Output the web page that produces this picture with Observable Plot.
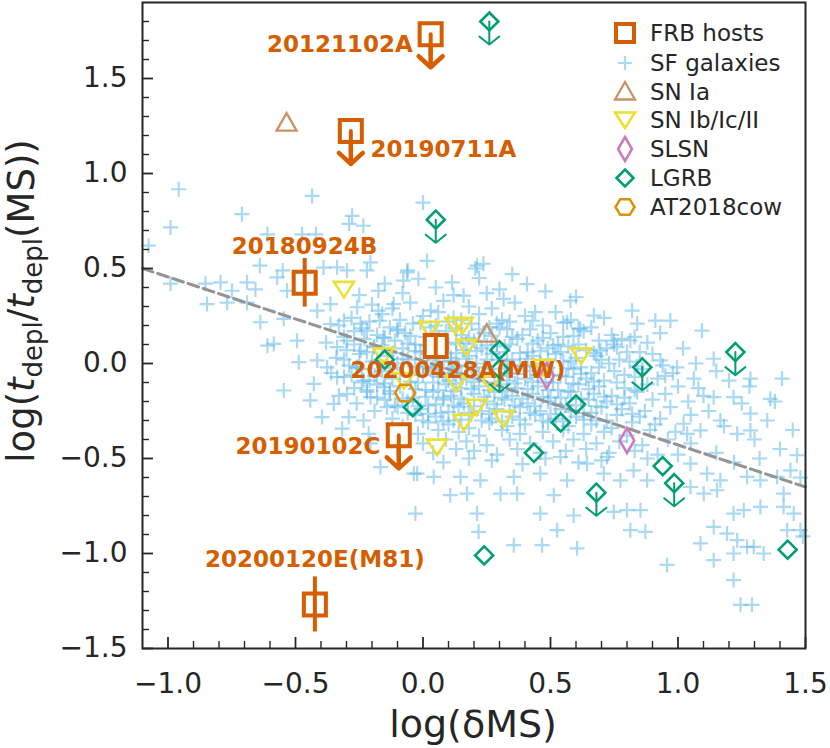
<!DOCTYPE html>
<html><head><meta charset="utf-8">
<script src="https://cdn.jsdelivr.net/npm/d3@7"></script>
<script src="https://cdn.jsdelivr.net/npm/@observablehq/plot@0.6"></script>
<style>body{margin:0;background:#fff} svg{font-family:"DejaVu Sans",sans-serif}</style>
</head><body><div id="chart"></div>
<script>
// ---------------- DATA ----------------
const majorX = [-1, -0.5, 0, 0.5, 1, 1.5];
const minorX = [-0.9,-0.8,-0.7,-0.6,-0.4,-0.3,-0.2,-0.1,0.1,0.2,0.3,0.4,0.6,0.7,0.8,0.9,1.1,1.2,1.3,1.4];
const majorY = [-1.5, -1, -0.5, 0, 0.5, 1, 1.5];
const minorY = [-1.4,-1.3,-1.2,-1.1,-0.9,-0.8,-0.7,-0.6,-0.4,-0.3,-0.2,-0.1,0.1,0.2,0.3,0.4,0.6,0.7,0.8,0.9,1.1,1.2,1.3,1.4,1.6,1.7,1.8];

const sfGalaxies = [
[-0.958,0.917],[-0.435,0.882],[-0.99,0.716],[-0.71,0.786],[-1.076,0.62],[0.0,0.847],[-0.278,0.777],[-0.234,0.725],[-0.29,0.735],[-0.61,0.68],[-0.474,0.68],[-0.42,0.68],[0.016,0.54],[0.205,0.50],[-0.64,0.515],[-0.55,0.49],[-0.337,0.506],[-0.22,0.49],[-0.39,0.505],[-0.298,0.49],[-0.206,0.532],[-0.06,0.49],[-0.018,0.446],[0.114,0.427],[-0.99,0.42],[-0.853,0.42],[-0.794,0.427],[-0.749,0.383],[-0.69,0.427],[-0.657,0.39],[-0.847,0.313],[-0.768,0.32],[-0.69,0.32],[-0.533,0.383],[-0.572,0.453],[-0.638,0.217],[-0.546,0.235],[-0.585,0.103],[-0.61,0.094],[-0.494,0.12],[-0.487,0.007],[-0.415,0.016],[-0.546,-0.142],[-0.396,-0.282],[-0.291,-0.282],[-0.317,-0.343],[-0.213,-0.37],[-0.167,-0.545],[-0.415,0.278],[-0.363,0.313],[-0.363,0.208],[-0.31,0.225],[-0.258,0.296],[-0.245,0.21],[-0.175,0.278],[-0.115,0.313],[-0.077,0.436],[-0.175,0.383],[-0.22,0.173],[-0.155,0.138],[-0.10,0.173],[-0.298,0.12],[-0.337,0.086],[-0.245,0.068],[-0.194,0.086],[-0.376,-0.02],[-0.337,-0.072],[-0.258,-0.02],[-0.233,-0.09],[-0.298,-0.16],[-0.206,-0.177],[-0.154,-0.124],[-0.141,-0.23],[-0.428,-0.107],[-0.442,-0.194],[-0.35,-0.212],[-0.233,-0.30],[-0.206,-0.42],[-0.023,-0.58],
[0.212,0.515],[0.237,0.525],[-0.062,0.48],[0.408,0.418],[0.159,0.357],[0.316,0.34],[0.578,0.331],[0.67,0.252],[0.82,0.278],[0.911,0.226],[0.97,0.226],[1.094,0.173],[0.565,0.217],[0.617,0.182],[0.748,0.121],[0.813,0.121],[0.761,0.086],[0.696,0.068],[1.14,0.025],[0.931,0.016],[0.996,-0.02],[1.062,-0.08],[1.284,-0.08],[1.408,-0.08],[1.218,-0.177],[1.362,-0.186],[1.14,-0.177],[1.284,-0.264],[1.166,-0.30],[1.284,-0.352],[1.232,-0.37],[1.088,-0.352],[1.036,-0.37],[1.022,-0.317],[1.467,-0.483],[1.441,-0.562],[1.389,-0.597],[1.323,-0.615],[1.271,-0.597],[1.166,-0.615],[1.114,-0.58],[1.049,-0.65],[1.101,-0.685],[1.153,-0.667],[1.218,-0.79],[1.258,-0.772],[1.323,-0.755],[1.414,-0.685],[1.414,-0.755],[1.454,-0.79],[1.48,-0.877],[1.428,-0.877],[1.49,-0.91],[1.088,-0.947],[1.14,-0.86],[1.192,-0.895],[1.232,-0.93],[1.271,-0.965],[1.297,-0.965],[1.336,-1.0],[1.218,-1.0],[1.14,-1.035],[1.218,-1.14],[1.245,-1.27],[1.29,-1.27],[0.957,-1.06],[0.813,-0.877],[0.872,-0.886],[0.80,-0.772],[0.748,-0.781],[0.853,-0.772],[0.591,-0.80],[0.526,-0.877],[0.46,-0.79],[0.604,-0.973],[0.467,-0.956],[0.356,-0.956],[0.218,-0.886],[0.212,-0.79],[-0.03,-0.79],[0.107,-0.693],[0.173,-0.685],[0.304,-0.685],[0.369,-0.685],[0.513,-0.693],[-0.036,-0.58],[0.042,-0.597],[0.147,-0.597],[0.225,-0.615],[0.356,-0.597],[0.46,-0.58],[0.565,-0.615],[0.709,-0.58],[0.774,-0.615],[0.826,-0.562],[0.879,-0.615],[1.049,-0.527],[0.722,-0.492],[0.643,-0.527],[0.539,-0.492],
[-0.20,0.31],[-0.12,0.29],[-0.05,0.32],[0.03,0.28],[0.08,0.33],[0.18,0.30],[0.27,0.29],[0.36,0.32],[0.44,0.27],
[-0.28,0.24],[-0.16,0.26],[-0.09,0.23],[0.00,0.25],[0.06,0.27],[0.12,0.24],[0.22,0.26],[0.31,0.23],[0.40,0.25],[0.52,0.27],[0.71,0.24],
[-0.33,0.20],[-0.21,0.22],[-0.13,0.19],[-0.04,0.21],[0.05,0.20],[0.10,0.22],[0.19,0.21],[0.26,0.19],[0.34,0.22],[0.47,0.20],[0.58,0.23],[0.66,0.19],[0.84,0.21],
[-0.27,0.17],[-0.18,0.15],[-0.07,0.16],[0.01,0.14],[0.09,0.17],[0.15,0.15],[0.24,0.16],[0.33,0.18],[0.39,0.15],[0.50,0.16],[0.55,0.14],[0.63,0.17],[0.74,0.15],[0.93,0.16],
[-0.38,0.11],[-0.23,0.13],[-0.11,0.12],[-0.03,0.10],[0.04,0.13],[0.13,0.11],[0.20,0.12],[0.29,0.10],[0.37,0.13],[0.45,0.12],[0.53,0.10],[0.69,0.12],[0.78,0.13],[0.88,0.11],
[-0.30,0.07],[-0.19,0.09],[-0.08,0.08],[-0.01,0.06],[0.07,0.09],[0.16,0.07],[0.23,0.08],[0.32,0.09],[0.41,0.06],[0.49,0.08],[0.57,0.09],[0.64,0.07],[0.72,0.08],[0.85,0.06],[1.02,0.08],
[-0.34,0.03],[-0.25,0.05],[-0.14,0.04],[-0.06,0.02],[0.02,0.05],[0.11,0.03],[0.18,0.04],[0.27,0.05],[0.35,0.02],[0.43,0.04],[0.52,0.05],[0.60,0.03],[0.68,0.04],[0.77,0.02],[0.90,0.05],
[-0.29,-0.01],[-0.20,0.01],[-0.10,0.00],[0.00,-0.02],[0.08,0.01],[0.14,-0.01],[0.21,0.00],[0.30,0.02],[0.38,-0.01],[0.46,0.00],[0.55,0.01],[0.62,-0.02],[0.73,0.00],[0.81,0.01],[0.94,-0.01],[1.07,0.00],
[-0.36,-0.05],[-0.24,-0.03],[-0.16,-0.04],[-0.05,-0.06],[0.03,-0.03],[0.12,-0.05],[0.19,-0.04],[0.26,-0.03],[0.34,-0.05],[0.42,-0.04],[0.51,-0.06],[0.59,-0.03],[0.66,-0.05],[0.75,-0.04],[0.86,-0.03],[0.98,-0.05],[1.15,-0.04],
[-0.31,-0.07],[-0.21,-0.09],[-0.12,-0.08],[-0.02,-0.10],[0.06,-0.07],[0.10,-0.09],[0.17,-0.08],[0.24,-0.07],[0.33,-0.09],[0.40,-0.08],[0.48,-0.10],[0.56,-0.07],[0.64,-0.08],[0.71,-0.09],[0.83,-0.07],[0.92,-0.08],[1.20,-0.09],
[-0.27,-0.13],[-0.18,-0.11],[-0.09,-0.12],[0.01,-0.14],[0.09,-0.11],[0.15,-0.13],[0.22,-0.12],[0.30,-0.11],[0.37,-0.13],[0.45,-0.12],[0.53,-0.14],[0.61,-0.11],[0.69,-0.12],[0.79,-0.13],[0.88,-0.11],[1.00,-0.12],
[-0.33,-0.17],[-0.22,-0.15],[-0.13,-0.16],[-0.04,-0.18],[0.04,-0.15],[0.11,-0.17],[0.20,-0.16],[0.28,-0.15],[0.35,-0.17],[0.43,-0.16],[0.50,-0.18],[0.58,-0.15],[0.67,-0.16],[0.74,-0.17],[0.84,-0.15],[0.95,-0.16],[1.10,-0.17],
[-0.26,-0.21],[-0.15,-0.19],[-0.06,-0.20],[0.02,-0.22],[0.08,-0.19],[0.16,-0.21],[0.25,-0.20],[0.32,-0.19],[0.41,-0.21],[0.49,-0.20],[0.56,-0.22],[0.65,-0.19],[0.72,-0.20],[0.81,-0.21],[0.90,-0.19],[1.04,-0.20],
[-0.19,-0.25],[-0.10,-0.23],[-0.01,-0.24],[0.07,-0.26],[0.14,-0.23],[0.23,-0.25],[0.29,-0.24],[0.38,-0.23],[0.46,-0.25],[0.54,-0.24],[0.63,-0.26],[0.70,-0.23],[0.78,-0.24],[0.87,-0.25],[0.97,-0.23],
[-0.12,-0.29],[-0.03,-0.27],[0.05,-0.28],[0.12,-0.30],[0.19,-0.27],[0.27,-0.29],[0.35,-0.28],[0.44,-0.27],[0.52,-0.29],[0.60,-0.28],[0.68,-0.30],[0.76,-0.27],[0.85,-0.28],[0.93,-0.29],[1.05,-0.27],
[-0.08,-0.33],[0.02,-0.31],[0.10,-0.32],[0.18,-0.34],[0.26,-0.31],[0.33,-0.33],[0.40,-0.32],[0.49,-0.31],[0.57,-0.33],[0.66,-0.32],[0.74,-0.34],[0.82,-0.31],[0.91,-0.32],
[-0.02,-0.37],[0.06,-0.35],[0.14,-0.36],[0.22,-0.38],[0.31,-0.35],[0.38,-0.37],[0.47,-0.36],[0.55,-0.35],[0.63,-0.37],[0.71,-0.36],[0.80,-0.38],[0.89,-0.35],[0.99,-0.36],
[0.00,-0.42],[0.09,-0.40],[0.17,-0.41],[0.25,-0.43],[0.34,-0.40],[0.42,-0.42],[0.51,-0.41],[0.59,-0.40],[0.68,-0.42],[0.77,-0.41],[0.86,-0.43],[0.96,-0.40],
[0.04,-0.47],[0.13,-0.45],[0.20,-0.46],[0.29,-0.48],[0.37,-0.45],[0.46,-0.47],[0.56,-0.46],[0.64,-0.45],[0.73,-0.47],[0.83,-0.46],[0.92,-0.48],
[0.08,-0.52],[0.18,-0.50],[0.27,-0.51],[0.39,-0.53],[0.48,-0.50],[0.61,-0.52],[0.70,-0.51],[0.88,-0.50],
[-0.15,0.42],[-0.08,0.37],[0.05,0.40],[0.12,0.36],[0.22,0.45],[0.30,0.39],[0.35,0.47],[0.48,0.38],[0.60,0.35],[0.25,0.37],[-0.25,0.36],
[1.12,-0.25],[1.18,-0.33],[1.25,-0.21],[1.30,-0.40],[1.35,-0.30],[1.40,-0.45],[1.45,-0.35],[1.05,-0.42],[1.15,-0.47],[1.22,-0.52],[1.32,-0.50],[1.48,-0.60],[1.00,-0.48],[1.08,-0.13],[1.28,-0.12],[1.38,-0.20],
[-0.17,0.225],[-0.01,0.215],[0.15,0.23],[0.29,0.21],[0.43,0.225],[0.55,0.215],
[-0.24,0.185],[-0.10,0.18],[0.03,0.19],[0.13,0.185],[0.22,0.18],[0.30,0.19],[0.42,0.18],[0.61,0.185],
[-0.31,0.14],[-0.15,0.135],[-0.05,0.145],[0.06,0.14],[0.18,0.135],[0.27,0.145],[0.35,0.14],[0.47,0.135],[0.59,0.145],[0.83,0.14],
[-0.27,0.10],[-0.16,0.095],[-0.06,0.105],[0.01,0.095],[0.10,0.10],[0.17,0.105],[0.25,0.095],[0.34,0.10],[0.43,0.105],[0.51,0.095],[0.61,0.10],[0.75,0.10],
[-0.22,0.06],[-0.12,0.055],[-0.03,0.065],[0.05,0.06],[0.13,0.055],[0.21,0.065],[0.29,0.06],[0.38,0.055],[0.46,0.065],[0.54,0.06],[0.67,0.055],[0.80,0.06],
[-0.31,0.02],[-0.18,0.015],[-0.08,0.025],[0.04,0.02],[0.11,0.015],[0.17,0.025],[0.25,0.02],[0.33,0.015],[0.41,0.025],[0.49,0.02],[0.58,0.015],[0.70,0.02],
[-0.26,-0.02],[-0.13,-0.025],[-0.03,-0.015],[0.05,-0.02],[0.10,-0.025],[0.17,-0.015],[0.24,-0.02],[0.32,-0.025],[0.40,-0.015],[0.49,-0.02],[0.57,-0.025],[0.69,-0.02],[0.84,-0.015],
[-0.28,-0.06],[-0.19,-0.065],[-0.09,-0.055],[0.00,-0.06],[0.08,-0.065],[0.15,-0.055],[0.22,-0.06],[0.30,-0.065],[0.37,-0.055],[0.45,-0.06],[0.54,-0.065],[0.62,-0.055],[0.79,-0.06],[0.95,-0.065],
[-0.24,-0.10],[-0.15,-0.105],[-0.05,-0.095],[0.04,-0.10],[0.13,-0.105],[0.20,-0.095],[0.28,-0.10],[0.36,-0.105],[0.43,-0.095],[0.51,-0.10],[0.59,-0.105],[0.67,-0.095],[0.76,-0.10],
[-0.22,-0.14],[-0.13,-0.145],[-0.03,-0.135],[0.06,-0.14],[0.12,-0.145],[0.19,-0.135],[0.26,-0.14],[0.33,-0.145],[0.41,-0.135],[0.49,-0.14],[0.57,-0.145],[0.65,-0.135],[0.83,-0.14],
[-0.18,-0.18],[-0.08,-0.185],[0.01,-0.175],[0.08,-0.18],[0.15,-0.185],[0.24,-0.175],[0.31,-0.18],[0.39,-0.185],[0.47,-0.175],[0.54,-0.18],[0.62,-0.185],[0.71,-0.175],[0.79,-0.18],
[-0.11,-0.22],[-0.02,-0.225],[0.05,-0.215],[0.12,-0.22],[0.20,-0.225],[0.28,-0.215],[0.36,-0.22],[0.44,-0.225],[0.52,-0.215],[0.60,-0.22],[0.68,-0.225],[0.76,-0.215],
[-0.06,-0.26],[0.02,-0.265],[0.10,-0.255],[0.18,-0.26],[0.26,-0.265],[0.34,-0.255],[0.42,-0.26],[0.50,-0.265],[0.58,-0.255],[0.66,-0.26],[0.82,-0.265],
[0.00,-0.30],[0.08,-0.305],[0.15,-0.295],[0.23,-0.30],[0.31,-0.305],[0.38,-0.295],[0.47,-0.30],[0.55,-0.305],[0.63,-0.295],[0.72,-0.30]
];

const snIa = [[-0.535,1.265],[0.25,0.155]];
const snCC = [[-0.31,0.39],[0.025,0.18],[0.127,0.20],[0.155,0.20],[0.17,0.085],[0.62,0.04],[0.47,-0.02],[0.13,-0.105],[0.265,-0.105],[0.21,-0.23],[0.16,-0.31],[0.315,-0.29],[0.055,-0.44],[-0.076,-0.09],[-0.155,0.04]];
const slsn = [[0.485,-0.065],[0.80,-0.405]];
const lgrb = [[-0.15,0.02],[-0.04,-0.23],[0.30,0.07],[0.60,-0.215],[0.54,-0.31],[0.435,-0.47],[0.94,-0.54],[0.24,-1.01],[1.43,-0.98]];
const lgrbUpper = [[0.26,1.80],[0.05,0.757],[0.30,-0.03],[0.86,-0.02],[1.225,0.06],[0.985,-0.63],[0.68,-0.68]];
const at2018cow = [[-0.07,-0.155]];

const fitX = [-1.1, 1.5];
const fitY = [0.50, -0.65];

const frbNames = ["20121102A","20190711A","20180924B","20200428A(MW)","20190102C","20200120E(M81)"];
const frbX = [0.03,-0.283,-0.464,0.05,-0.095,-0.424];
const frbY = [1.733,1.224,0.425,0.092,-0.378,-1.268];
const frbErr = [0,0,0.128,0.06,0,0.145];
const frbUpper = [true,true,false,false,true,false];
const frbLabelX = [-0.04,-0.206,-0.465,0.137,-0.167,-0.424];
const frbLabelY = [1.68,1.124,0.615,-0.037,-0.436,-1.03];
const frbLabelAnchor = ["end","start","middle","middle","end","middle"];

const legendLabels = ["FRB hosts","SF galaxies","SN Ia","SN Ib/Ic/II","SLSN","LGRB","AT2018cow"];

// ---------------- STYLE ----------------
const C = {frb:"#D55E00", sf:"#56B4E9", ia:"#CA9161", cc:"#ECE133", slsn:"#CC78BC", lgrb:"#029E73", cow:"#DE8F05", fit:"#949494", ink:"#262626"};
const W = 830, H = 748, mL = 142, mR = 25, mT = 2, mB = 100;
const pW = W - mL - mR, pH = H - mT - mB;

const rad = s => Math.sqrt(s / Math.PI);
const symSquare = {draw(c,s){const r=rad(s);c.moveTo(-r,-r);c.lineTo(r,-r);c.lineTo(r,r);c.lineTo(-r,r);c.closePath();}};
const symPlus = {draw(c,s){const r=rad(s);c.moveTo(-r,0);c.lineTo(r,0);c.moveTo(0,-r);c.lineTo(0,r);}};
const symTriUp = {draw(c,s){const r=rad(s);c.moveTo(0,-r);c.lineTo(r,0.75*r);c.lineTo(-r,0.75*r);c.closePath();}};
const symTriDown = {draw(c,s){const r=rad(s);c.moveTo(0,r*0.8);c.lineTo(r,-0.75*r);c.lineTo(-r,-0.75*r);c.closePath();}};
const symDiamond = {draw(c,s){const r=rad(s);c.moveTo(0,-r);c.lineTo(r,0);c.lineTo(0,r);c.lineTo(-r,0);c.closePath();}};
const symThinDiamond = {draw(c,s){const r=rad(s);c.moveTo(0,-r);c.lineTo(0.58*r,0);c.lineTo(0,r);c.lineTo(-0.58*r,0);c.closePath();}};
const symHex = {draw(c,s){const r=rad(s);for(let i=0;i<6;i++){const a=i*Math.PI/3;const px=r*Math.cos(a),py=r*Math.sin(a)*0.95;if(i===0)c.moveTo(px,py);else c.lineTo(px,py);}c.closePath();}};
const chevron = (w,h) => ({draw(c,l){c.moveTo(0,0);c.lineTo(0,-l);c.moveTo(-w,-l+h);c.lineTo(0,-l);c.lineTo(w,-l+h);}});

const frb = frbNames.map((n,i)=>({name:n,x:frbX[i],y:frbY[i],err:frbErr[i],upper:frbUpper[i],lx:frbLabelX[i],ly:frbLabelY[i],anchor:frbLabelAnchor[i]}));
const fit = fitX.map((x,i)=>({x, y:fitY[i]}));

const labelMarks = ["start","middle","end"].map(a => Plot.text(frb, {filter:d=>d.anchor===a, x:"lx", y:"ly", text:"name", textAnchor:a, fontSize:23, fontWeight:"bold", fill:C.frb}));

const chart = Plot.plot({
  width: W, height: H,
  marginLeft: mL, marginRight: mR, marginTop: mT, marginBottom: mB,
  style: {fontFamily:"DejaVu Sans, sans-serif", background:"#fff", color:C.ink},
  x: {domain:[-1.1,1.5]},
  y: {domain:[-1.5,1.9]},
  marks: [
    Plot.dot(sfGalaxies, {x:d=>d[0], y:d=>d[1], symbol:symPlus, r:7.5, stroke:C.sf, strokeOpacity:0.5, strokeWidth:2.2, fill:"none"}),
    Plot.line(fit, {x:"x", y:"y", stroke:C.fit, strokeWidth:3, strokeDasharray:"11,5"}),
    Plot.dot(snIa, {x:d=>d[0], y:d=>d[1], symbol:symTriUp, r:10, stroke:C.ia, strokeWidth:2.3, fill:"none"}),
    Plot.dot(snCC, {x:d=>d[0], y:d=>d[1], symbol:symTriDown, r:10, stroke:C.cc, strokeWidth:2.6, fill:"none"}),
    Plot.dot(slsn, {x:d=>d[0], y:d=>d[1], symbol:symThinDiamond, r:12.5, stroke:C.slsn, strokeWidth:2.5, fill:"none"}),
    Plot.vector(lgrbUpper, {x:d=>d[0], y:d=>d[1], length:23, rotate:180, anchor:"start", shape:chevron(10,8), stroke:C.lgrb, strokeWidth:2}),
    Plot.dot(lgrb.concat(lgrbUpper), {x:d=>d[0], y:d=>d[1], symbol:symDiamond, r:9, stroke:C.lgrb, strokeWidth:2.6, fill:"none"}),
    Plot.dot(at2018cow, {x:d=>d[0], y:d=>d[1], symbol:symHex, r:10, stroke:C.cow, strokeWidth:2.5, fill:"none"}),
    Plot.vector(frb.filter(d=>d.upper), {x:"x", y:"y", length:33, rotate:180, anchor:"start", shape:chevron(12,11), stroke:C.frb, strokeWidth:4.5}),
    Plot.dot(frb, {x:"x", y:"y", symbol:symSquare, r:11, stroke:C.frb, strokeWidth:4, fill:"white"}),
    Plot.ruleX(frb.filter(d=>d.err>0), {x:"x", y1:d=>d.y-d.err, y2:d=>d.y+d.err, stroke:C.frb, strokeWidth:4}),
    Plot.vector(frb.filter(d=>d.upper), {x:"x", y:"y", length:20, rotate:180, anchor:"start", shape:chevron(0,0), stroke:C.frb, strokeWidth:4}),
    ...labelMarks,
    Plot.frame({stroke:C.ink, strokeWidth:2}),
    Plot.tickX(majorX, {x:d=>d, insetTop:pH-11, stroke:C.ink, strokeWidth:1.8}),
    Plot.tickX(minorX, {x:d=>d, insetTop:pH-7, stroke:C.ink, strokeWidth:1.4}),
    Plot.tickY(majorY, {y:d=>d, insetRight:pW-11, stroke:C.ink, strokeWidth:1.8}),
    Plot.tickY(minorY, {y:d=>d, insetRight:pW-7, stroke:C.ink, strokeWidth:1.4}),
    Plot.axisX({ticks:majorX, tickSize:0, tickPadding:25, fontSize:28, tickFormat:d3.format(".1f"), label:null, fill:C.ink}),
    Plot.axisY({ticks:majorY, tickSize:0, tickPadding:15, fontSize:28, tickFormat:d3.format(".1f"), label:null, fill:C.ink})
  ]
});

const svg = d3.select(chart);
// axis titles
svg.append("text").attr("x", 473).attr("y", 737).attr("text-anchor","middle").attr("font-size",38).attr("fill",C.ink).text("log(δMS)");
const yl = svg.append("text").attr("transform","translate(34,301) rotate(-90)").attr("text-anchor","middle").attr("font-size",37).attr("fill",C.ink);
yl.append("tspan").text("log(");
yl.append("tspan").attr("font-style","italic").text("t");
yl.append("tspan").attr("font-size",26).attr("dy",8).text("depl");
yl.append("tspan").attr("dy",-8).text("/");
yl.append("tspan").attr("font-style","italic").text("t");
yl.append("tspan").attr("font-size",26).attr("dy",8).text("depl");
yl.append("tspan").attr("dy",-8).text("(MS))");

// legend
const legendStyles = [
  {sym:symSquare, r:9, stroke:C.frb, sw:4, op:1},
  {sym:symPlus, r:7, stroke:C.sf, sw:2.2, op:0.5},
  {sym:symTriUp, r:10, stroke:C.ia, sw:2.3, op:1},
  {sym:symTriDown, r:10, stroke:C.cc, sw:2.6, op:1},
  {sym:symThinDiamond, r:12, stroke:C.slsn, sw:2.5, op:1},
  {sym:symDiamond, r:8.5, stroke:C.lgrb, sw:2.6, op:1},
  {sym:symHex, r:9.5, stroke:C.cow, sw:2.5, op:1}
];
const legendRowY = [33, 63, 92, 120, 149, 178, 207];
const lg = svg.append("g").attr("text-anchor","start");
legendLabels.forEach((lab, i) => {
  const st = legendStyles[i];
  lg.append("path").attr("transform",`translate(625,${legendRowY[i]})`)
    .attr("d", d3.symbol().type(st.sym).size(Math.PI*st.r*st.r)())
    .attr("fill","none").attr("stroke",st.stroke).attr("stroke-width",st.sw).attr("stroke-opacity",st.op);
  lg.append("text").attr("x",650).attr("y",legendRowY[i]).attr("dy","0.36em").attr("text-anchor","start").attr("font-size",23).attr("fill",C.ink).text(lab);
});

document.getElementById("chart").append(chart);
</script></body></html>
